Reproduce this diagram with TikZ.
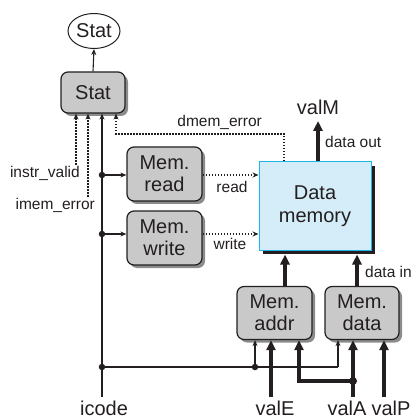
\documentclass[tikz,border=0pt]{standalone}
\usepackage{fontspec}
\setmainfont{Liberation Sans}
\usetikzlibrary{arrows.meta,shadows,shapes.geometric,calc}
\definecolor{boxgrey}{HTML}{C9C9C9}
\definecolor{memfill}{HTML}{D5EDF9}
\definecolor{memline}{HTML}{1EB4EA}
\definecolor{ink}{HTML}{231F20}
\begin{document}
\begin{tikzpicture}[x=1pt,y=-1pt,
  color=ink,
  big/.style={font=\fontsize{20}{22}\selectfont},
  small/.style={font=\fontsize{15.5}{17}\selectfont},
  unit/.style={draw=ink, line width=1.2pt, fill=boxgrey, rounded corners=7pt,
    minimum width=75pt, minimum height=54pt, align=center, inner sep=0pt, big,
    drop shadow={shadow xshift=3pt,shadow yshift=-3pt,fill=black!45,opacity=1}},
  thinline/.style={line width=1.1pt},
  thinarr/.style={thinline,-{Stealth[width=5pt,length=6pt]}},
  dotarr/.style={line width=1.4pt, dash pattern=on 1.4pt off 1.6pt,
    -{Stealth[width=5pt,length=6pt]}},
  thickarr/.style={line width=3.5pt, -{Triangle[width=9pt,length=10pt]}},
  thickline/.style={line width=3.5pt},
  jdot/.style={circle,fill=ink,inner sep=0pt,minimum size=6.5pt},
  lbl/.style={inner sep=2pt}
]
\useasboundingbox (0,0) rectangle (417,419);

% nodes
\node[draw, ellipse, line width=1pt, minimum width=52pt, minimum height=35pt,
  inner sep=0pt, big] (statE) at (94,31) {Stat};
\node[unit, minimum width=64pt, minimum height=41pt] (stat) at (93,92.5) {Stat};
\node[unit] (mr) at (164.5,174) {Mem.\\read};
\node[unit] (mw) at (164.5,238) {Mem.\\write};
\node[unit, minimum height=53pt] (ma) at (274.5,313) {Mem.\\addr};
\node[unit, minimum width=74pt, minimum height=53pt] (md) at (362,313) {Mem.\\data};
\node[draw=memline, fill=memfill, line width=1pt, minimum width=112pt,
  minimum height=88pt, align=center, inner sep=0pt,
  font=\fontsize{20}{23.5}\selectfont,
  drop shadow={shadow xshift=4pt,shadow yshift=-4pt,fill=ink,opacity=1}]
  (dm) at (315,206) {Data\\memory};

% labels
\node[big, anchor=base, inner sep=0pt] (icode) at (104,415) {icode};
\node[big, anchor=base, inner sep=0pt] (valE) at (275,415) {valE};
\node[big, anchor=base, inner sep=0pt] (valA) at (347,415) {valA};
\node[big, anchor=base, inner sep=0pt] (valP) at (391,415) {valP};
\node[big, anchor=base, inner sep=0pt] (valM) at (318,115) {valM};
\node[small, lbl, anchor=base west] (dout) at (323,148) {data out};
\node[small, lbl, anchor=base west] (din) at (363,277) {data in};
\node[small, lbl, anchor=base] (rd) at (232,193) {read};
\node[small, lbl, anchor=base] (wr) at (230,249) {write};
\node[small, lbl, anchor=base east] (dme) at (264,127) {dmem\_error};
\node[small, lbl, anchor=base east] (iv) at (82,178) {instr\_valid};
\node[small, lbl, anchor=base east] (ie) at (97,210) {imem\_error};

% coordinates
\coordinate (ic) at (102,397);
\coordinate (ve) at (271,397);
\coordinate (va) at (353,397);
\coordinate (vp) at (384,397);
\coordinate (c1) at (338,367);
\coordinate (c2) at (299,381);
\coordinate (e1) at (116,134);
\coordinate (e2) at (284,134);

% junctions
\node[jdot] (j1) at (102,175) {};
\node[jdot] (j2) at (102,234) {};
\node[jdot] (j3) at (102,367) {};
\node[jdot] (j4) at (255,367) {};
\node[jdot, minimum size=8pt] (j5) at (353,381) {};

% stat
\draw[thinarr] (stat.north) -- (statE.south);
\draw[thinarr] (ic) -- (ic |- stat.south);
\draw[dotarr] (iv.north -| 76,0) -- (76,0 |- stat.south);
\draw[dotarr] (ie.north -| 88,0) -- (88,0 |- stat.south);
\draw[dotarr] (e2 |- dm.north) -- (e2) -- (e1) -- (e1 |- stat.south);

% control
\draw[thinarr] (j1.center) -- (j1 -| mr.west);
\draw[thinarr] (j2.center) -- (j2 -| mw.west);
\draw[dotarr] (mr.east |- j1) -- (dm.west |- j1);
\draw[dotarr] (mw.east |- j2) -- (dm.west |- j2);
\draw[thinline] (j3.center) -- (c1);
\draw[thinarr] (c1) -- (c1 |- md.south);
\draw[thinarr] (j4.center) -- (j4 |- ma.south);

% data
\draw[thickarr] (ve) -- (ve |- ma.south);
\draw[thickarr] (va) -- (va |- md.south);
\draw[thickarr] (vp) -- (vp |- md.south);
\draw[thickarr, line join=miter] (j5.center) -- (c2) -- (c2 |- ma.south);
\draw[thickarr] (285,0 |- ma.north) -- ($(285,0 |- dm.south)+(0,4)$);
\draw[thickarr] (357,0 |- md.north) -- ($(357,0 |- dm.south)+(0,4)$);
\draw[thickarr] (318,0 |- dm.north) -- (318,121);
\end{tikzpicture}
\end{document}
